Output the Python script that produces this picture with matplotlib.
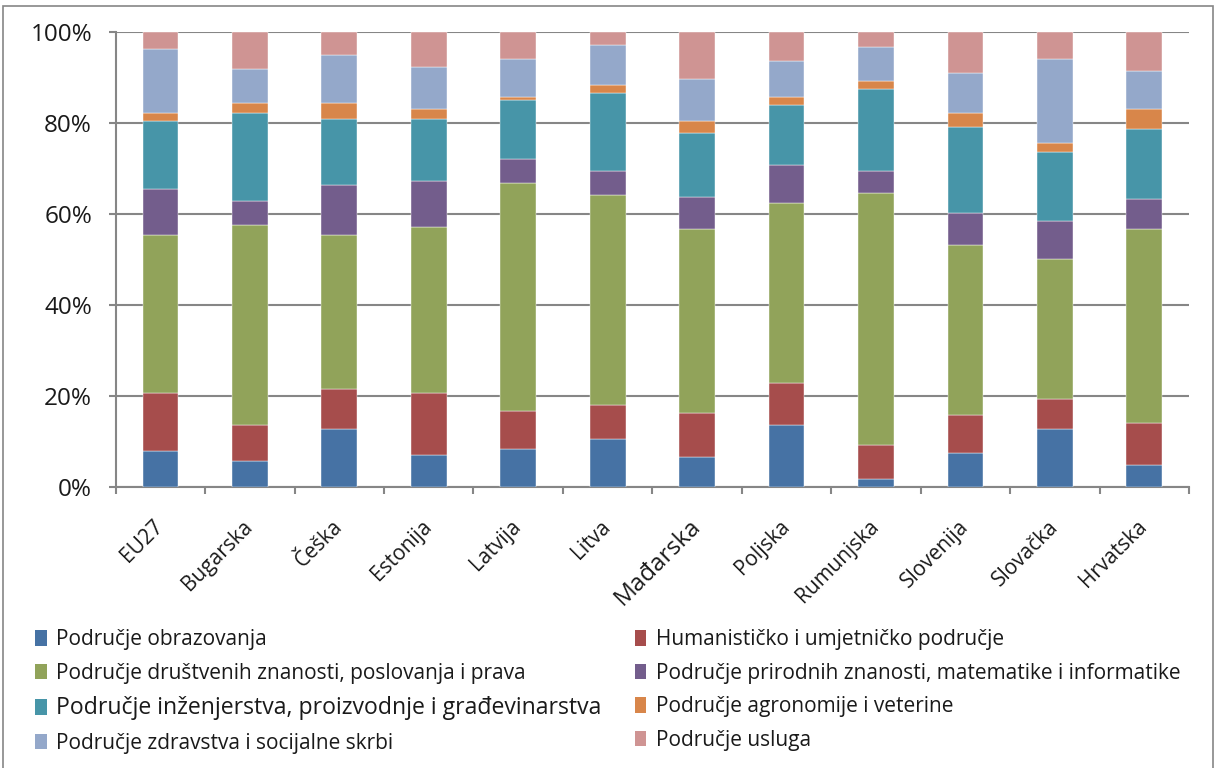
import matplotlib
matplotlib.use("Agg")
import matplotlib.pyplot as plt
from matplotlib.patches import Rectangle, Patch
from matplotlib.ticker import FixedLocator, PercentFormatter
import numpy as np

countries = ["EU27", "Bugarska", "Češka", "Estonija", "Latvija", "Litva",
             "Mađarska", "Poljska", "Rumunjska", "Slovenija", "Slovačka", "Hrvatska"]

series_names = [
    "Područje obrazovanja",
    "Humanističko i umjetničko područje",
    "Područje društvenih znanosti, poslovanja i prava",
    "Područje prirodnih znanosti, matematike i informatike",
    "Područje inženjerstva, proizvodnje i građevinarstva",
    "Područje agronomije i veterine",
    "Područje zdravstva i socijalne skrbi",
    "Područje usluga",
]

obrazovanje = [8.0, 5.8, 12.8, 7.1, 8.5, 10.7, 6.7, 13.7, 1.9, 7.5, 12.8, 5.0]
humanisticko = [12.8, 7.9, 8.8, 13.7, 8.2, 7.4, 9.6, 9.3, 7.4, 8.4, 6.6, 9.2]
drustvene = [34.6, 43.9, 33.8, 36.3, 50.1, 46.1, 40.4, 39.4, 55.3, 37.3, 30.7, 42.5]
prirodne = [10.1, 5.2, 11.0, 10.2, 5.2, 5.2, 7.1, 8.4, 4.8, 7.1, 8.4, 6.5]
inzenjerstvo = [14.9, 19.4, 14.4, 13.5, 12.9, 17.1, 14.0, 13.1, 18.0, 18.7, 15.2, 15.4]
agronomija = [1.8, 2.1, 3.5, 2.2, 0.8, 1.8, 2.6, 1.8, 1.8, 3.2, 1.8, 4.4]
zdravstvo = [14.0, 7.6, 10.6, 9.3, 8.3, 8.7, 9.2, 7.9, 7.4, 8.7, 18.5, 8.3]
usluge = [3.8, 8.1, 5.1, 7.7, 6.0, 3.0, 10.4, 6.4, 3.4, 9.1, 6.0, 8.7]

series = [obrazovanje, humanisticko, drustvene, prirodne, inzenjerstvo,
          agronomija, zdravstvo, usluge]
colors = ["#4672A4", "#A64D4C", "#91A35A", "#735D8C", "#4795A8",
          "#D8864A", "#94A8CA", "#CF9493"]

FONT = "Open Sans"
GRID = "#868686"

W, H = 1217, 768
fig = plt.figure(figsize=(W / 100, H / 100), dpi=100)
fig.patch.set_facecolor("white")

# chart border
fig.patches.append(Rectangle((3 / W, -0.01), (1213 - 3) / W, (H - 5.7) / H + 0.01,
                             transform=fig.transFigure, fill=False,
                             edgecolor=GRID, linewidth=1.2, zorder=0))

left, right, top, bottom = 115.7, 1189, 31.7, 487.3
ax = fig.add_axes([left / W, (H - bottom) / H, (right - left) / W, (bottom - top) / H])

x = np.arange(len(countries))
base = np.zeros(len(countries))
for vals, col, name in zip(series, colors, series_names):
    v = np.array(vals, dtype=float)
    ax.bar(x, v, width=0.40, bottom=base, color=col, label=name,
           edgecolor="white", linewidth=0.3, zorder=3)
    base = base + v

ax.set_xlim(-0.5, len(countries) - 0.5)
ax.set_ylim(0, 100)
ax.yaxis.set_major_locator(FixedLocator([0, 20, 40, 60, 80, 100]))
ax.yaxis.set_major_formatter(PercentFormatter(decimals=0))
ax.grid(axis="y", color=GRID, linewidth=1.5, zorder=0)
ax.set_axisbelow(True)

for s in ["top", "right"]:
    ax.spines[s].set_visible(False)
for s in ["left", "bottom"]:
    ax.spines[s].set_color(GRID)
    ax.spines[s].set_linewidth(1.5)

ax.set_xticks(x)
ax.set_xticklabels(countries, rotation=45, ha="right", va="center",
                   rotation_mode="anchor", fontsize=15, family=FONT, color="#1a1a1a")
for t in ax.get_xticklabels():
    if t.get_text() == "Mađarska":
        t.set_fontsize(17.5)
ax.tick_params(axis="x", which="major", length=0, pad=26)
ax.set_xticks(np.arange(-0.5, len(countries), 1.0), minor=True)
ax.tick_params(axis="x", which="minor", length=5, width=1.5, color=GRID, direction="out")
ax.tick_params(axis="y", length=5, width=1.5, color=GRID, direction="out", pad=12,
               labelsize=17.5, labelcolor="#1a1a1a")
for t in ax.get_yticklabels():
    t.set_family(FONT)

# legend: row-major order in two columns
handles = [Patch(facecolor=c, edgecolor="none") for c in colors]
order = [0, 2, 4, 6, 1, 3, 5, 7]
leg = fig.legend([handles[i] for i in order], [series_names[i] for i in order],
                 ncol=2, loc="upper left", bbox_to_anchor=(27 / W, 1 - 621 / H),
                 frameon=False, prop={"family": FONT, "size": 15},
                 handlelength=0.55, handleheight=0.75, handletextpad=0.45,
                 labelspacing=0.6, columnspacing=1.6, borderaxespad=0)
for i, t in zip(order, leg.get_texts()):
    t.set_color("#1a1a1a")
    if i == 4:
        t.set_fontsize(16.6)

fig.savefig("out.png", dpi=100, facecolor="white")
